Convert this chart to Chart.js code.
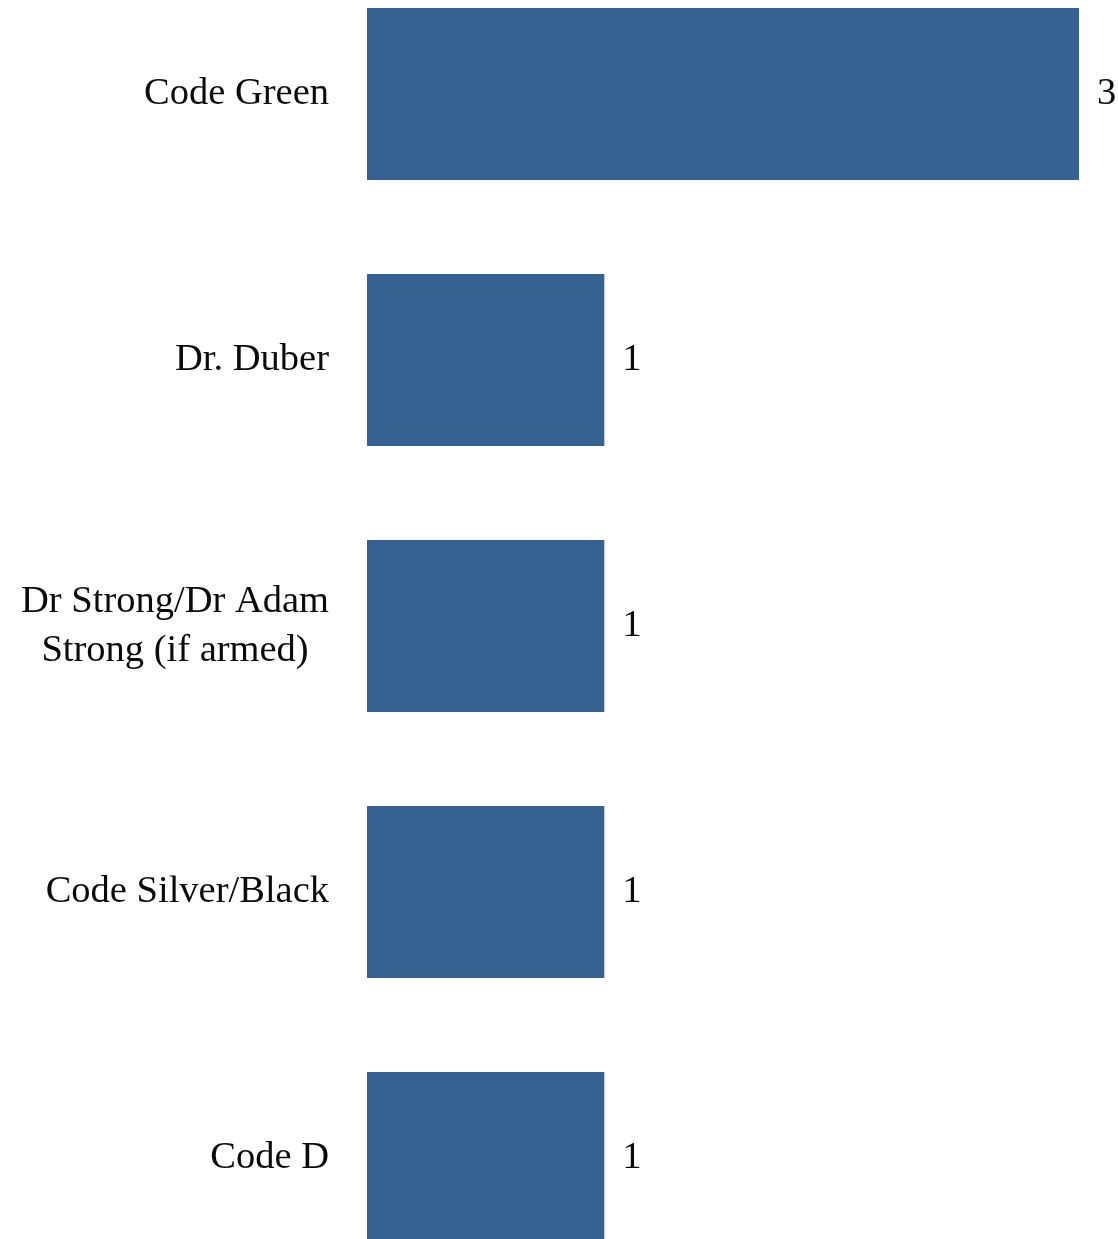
<!DOCTYPE html>
<html>
<head>
<meta charset="utf-8">
<script src="https://cdn.jsdelivr.net/npm/chart.js@4/dist/chart.umd.min.js"></script>
<style>
  html, body { margin: 0; padding: 0; background: #fff; overflow: hidden; }
  #wrap { position: absolute; left: 0; top: -39px; width: 1118px; height: 1330px; }
</style>
</head>
<body>
<div id="wrap"><canvas id="codesChart"></canvas></div>
<script>
"use strict";

/* ── Data ─────────────────────────────────────────────── */
const categories = [
  "Code Green",
  "Dr. Duber",
  ["Dr Strong/Dr Adam", "Strong (if armed)"],
  "Code Silver/Black",
  "Code D",
];
const counts = [3, 1, 1, 1, 1];

const BAR_COLOR = "#376190";
const FONT = "38.5px 'Liberation Serif', 'DejaVu Serif', serif";
const LINE_H = 49;

/* ── Category labels: right aligned block, lines centred inside ── */
const categoryLabels = {
  id: "categoryLabels",
  afterDraw(chart) {
    const { ctx } = chart;
    const y = chart.scales.y;
    const right = y.right - 38;
    ctx.save();
    ctx.font = FONT;
    ctx.fillStyle = "#0a0a0a";
    ctx.textBaseline = "middle";
    ctx.textAlign = "center";
    categories.forEach((lab, i) => {
      const lines = Array.isArray(lab) ? lab : [lab];
      const widest = Math.max(...lines.map((l) => ctx.measureText(l).width));
      const cx = right - widest / 2;
      const cy = y.getPixelForTick(i);
      const top = cy - ((lines.length - 1) * LINE_H) / 2;
      lines.forEach((l, k) => ctx.fillText(l, cx, top + k * LINE_H));
    });
    ctx.restore();
  },
};

/* ── Value labels at bar ends ─────────────────────────── */
const valueLabels = {
  id: "valueLabels",
  afterDatasetsDraw(chart) {
    const { ctx } = chart;
    const meta = chart.getDatasetMeta(0);
    ctx.save();
    ctx.font = FONT;
    ctx.fillStyle = "#0a0a0a";
    ctx.textBaseline = "middle";
    ctx.textAlign = "left";
    meta.data.forEach((bar, i) => {
      ctx.fillText(String(counts[i]), bar.x + 18, bar.y);
    });
    ctx.restore();
  },
};

new Chart(document.getElementById("codesChart"), {
  type: "bar",
  data: {
    labels: categories,
    datasets: [
      {
        data: counts,
        backgroundColor: BAR_COLOR,
        borderWidth: 0,
        categoryPercentage: 1,
        barPercentage: 0.647,
      },
    ],
  },
  options: {
    indexAxis: "y",
    responsive: true,
    maintainAspectRatio: false,
    animation: false,
    layout: { padding: { left: 0, right: 39, top: 0, bottom: 0 } },
    plugins: { legend: { display: false }, tooltip: { enabled: false } },
    scales: {
      x: { display: false, min: 0, max: 3 },
      y: {
        grid: { display: false, drawTicks: false },
        border: { display: false },
        ticks: { display: false },
        afterFit: (scale) => { scale.width = 367; },
      },
    },
  },
  plugins: [categoryLabels, valueLabels],
});
</script>
</body>
</html>
